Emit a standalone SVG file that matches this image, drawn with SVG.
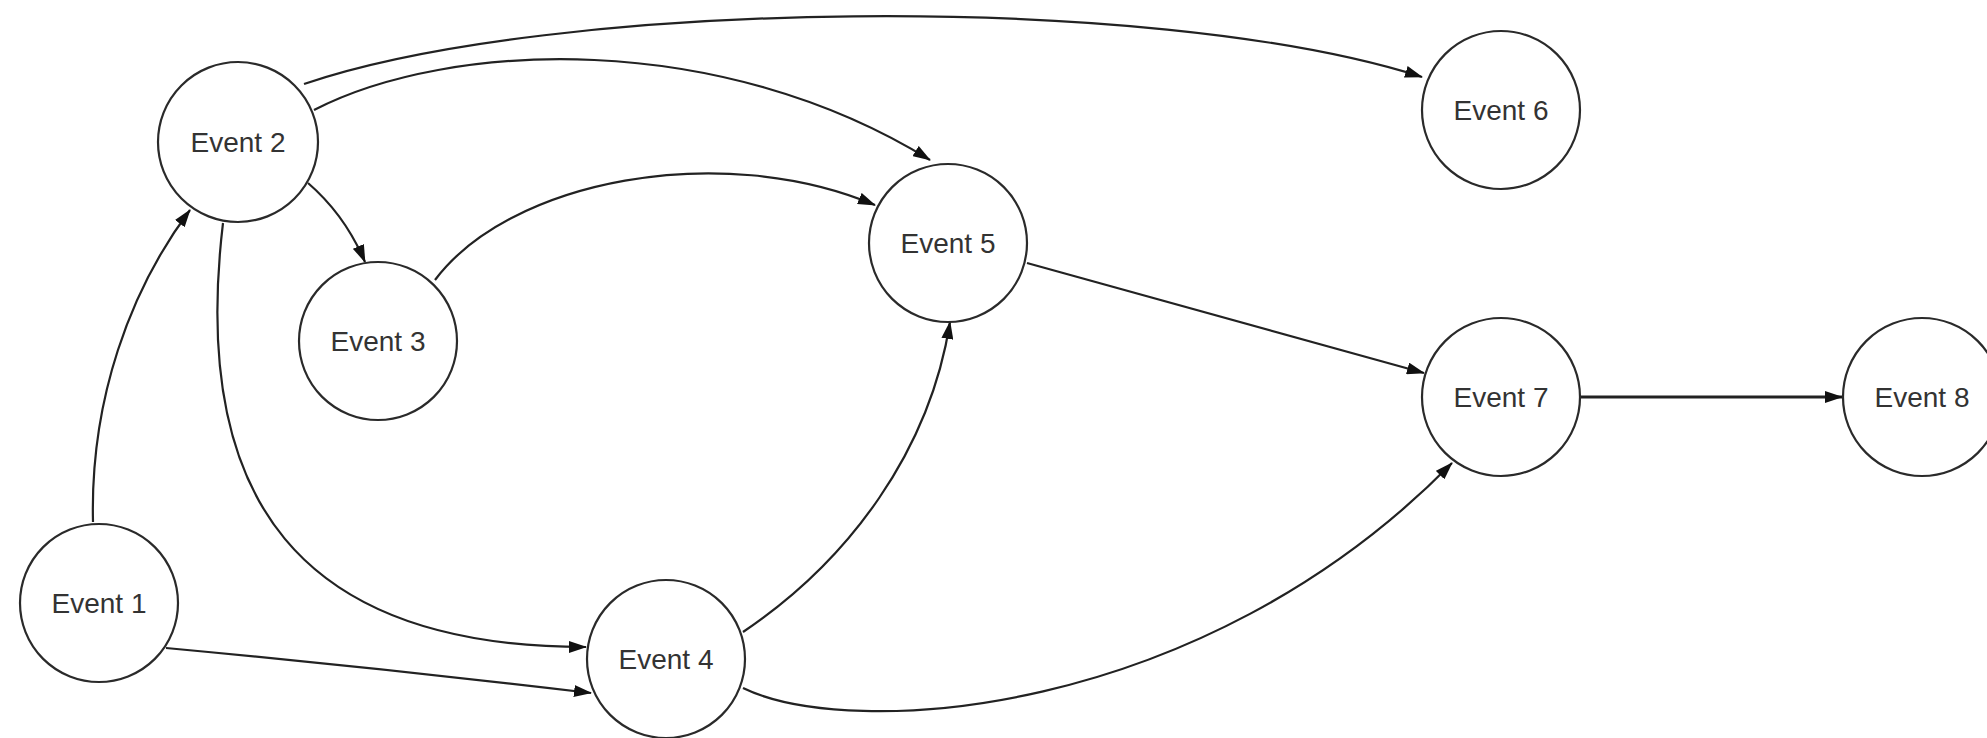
<svg xmlns="http://www.w3.org/2000/svg" width="1987" height="738" viewBox="0 0 1987 738">
<style>
.node circle{fill:#fff;stroke:#2a2a2a;stroke-width:2.2}
.node text{font-family:"Liberation Sans",Arial,sans-serif;font-size:28px;fill:#333;text-anchor:middle}
.edges path{fill:none;stroke:#222;stroke-width:2.2;marker-end:url(#arr)}
</style>
<defs>
<marker id="arr" markerUnits="userSpaceOnUse" markerWidth="18" markerHeight="12" refX="17" refY="6" orient="auto">
<path d="M0,0 L18,6 L0,12 z" fill="#111"/>
</marker>
</defs>
<rect width="1987" height="738" fill="#fff"/>
<g class="edges" id="connectors">
<path id="e1-2" d="M93 522 C90 400 130 290 190 210"/>
<path id="e2-3" d="M308 183 Q345 215 365 262"/>
<path id="e2-5" d="M314 110 C450 40 720 30 930 160"/>
<path id="e2-6" d="M304 84 C550 0 1150 -10 1422 77"/>
<path id="e2-4" d="M223 223 C190 500 300 647 586 647"/>
<path id="e1-4" d="M166 648 Q380 668 591 693"/>
<path id="e3-5" d="M435 280 C510 180 720 140 875 205"/>
<path id="e4-5" d="M743 632 C850 560 930 450 950 322"/>
<path id="e4-7" d="M743 688 C850 740 1200 720 1452 463"/>
<path id="e5-7" d="M1027 263 L1424 373"/>
<path id="e7-8" d="M1580 397 L1842 397" style="stroke-width:2.8"/>
</g>
<g class="node" id="event1"><circle cx="99" cy="603" r="79"/><text x="99" y="613">Event 1</text></g>
<g class="node" id="event2"><circle cx="238" cy="142" r="80"/><text x="238" y="152">Event 2</text></g>
<g class="node" id="event3"><circle cx="378" cy="341" r="79"/><text x="378" y="351">Event 3</text></g>
<g class="node" id="event4"><circle cx="666" cy="659" r="79"/><text x="666" y="669">Event 4</text></g>
<g class="node" id="event5"><circle cx="948" cy="243" r="79"/><text x="948" y="253">Event 5</text></g>
<g class="node" id="event6"><circle cx="1501" cy="110" r="79"/><text x="1501" y="120">Event 6</text></g>
<g class="node" id="event7"><circle cx="1501" cy="397" r="79"/><text x="1501" y="407">Event 7</text></g>
<g class="node" id="event8"><circle cx="1922" cy="397" r="79"/><text x="1922" y="407">Event 8</text></g>
</svg>
